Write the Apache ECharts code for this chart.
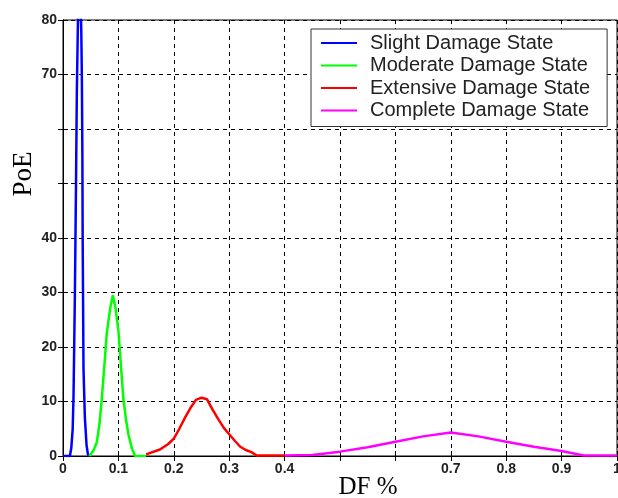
<!DOCTYPE html>
<html>
<head>
<meta charset="utf-8">
<script src="https://cdn.jsdelivr.net/npm/echarts@6/dist/echarts.min.js"></script>
<style>
  html, body { margin: 0; padding: 0; background: #fff; }
  #chart { width: 618px; height: 498px; }
</style>
</head>
<body>
<div id="chart"></div>
<script>
// series (DF vs PoE)
var slightX = [0, 0.0125, 0.015, 0.0175, 0.019, 0.0215, 0.0235, 0.025, 0.027, 0.029, 0.031, 0.033, 0.034, 0.035, 0.0355, 0.037, 0.0395, 0.0425, 0.045, 0.0475];
var slightY = [0, 0, 1.5, 5, 11, 30, 50, 67, 80, 88, 86, 78, 70, 55, 40, 16, 7, 2, 0.3, 0];

var moderateX = [0.0475, 0.055, 0.061, 0.066, 0.07, 0.075, 0.079, 0.085, 0.09, 0.095, 0.1, 0.105, 0.109, 0.114, 0.118, 0.124, 0.13, 0.15];
var moderateY = [0, 1, 2.5, 6, 10.5, 17, 22.5, 27, 29.5, 27, 23, 16, 10.5, 6.5, 4, 1.5, 0, 0];

var extensiveX = [0.15, 0.175, 0.19, 0.2, 0.21, 0.22, 0.23, 0.24, 0.25, 0.26, 0.27, 0.28, 0.29, 0.3, 0.31, 0.32, 0.33, 0.34, 0.35, 0.4];
var extensiveY = [0.3, 1.2, 2.2, 3.2, 5, 7, 8.8, 10.3, 10.7, 10.4, 8.5, 6.8, 5.2, 4, 2.8, 1.7, 1.1, 0.7, 0.1, 0.1];

var completeX = [0.4, 0.45, 0.5, 0.55, 0.6, 0.65, 0.7, 0.75, 0.8, 0.85, 0.9, 0.94, 1];
var completeY = [0.1, 0.2, 0.8, 1.6, 2.6, 3.6, 4.3, 3.6, 2.6, 1.7, 0.9, 0.1, 0.1];

var seriesNames = ["Slight Damage State", "Moderate Damage State", "Extensive Damage State", "Complete Damage State"];
var seriesColors = ["#0000ff", "#00ff00", "#ff0000", "#ff00ff"];

// tick labels that are hidden in the reference
var hiddenX = [0.5, 0.6];
var hiddenY = [50, 60];

function pairs (xs, ys) {
  return xs.map(function (x, i) { return [x, ys[i]]; });
}

var chart = echarts.init(document.getElementById("chart"));

var allX = [slightX, moderateX, extensiveX, completeX];
var allY = [slightY, moderateY, extensiveY, completeY];

var series = seriesNames.map(function (name, i) {
  return {
    name: name,
    type: "line",
    symbol: "none",
    clip: true,
    lineStyle: { color: seriesColors[i], width: 2.5 },
    itemStyle: { color: seriesColors[i] },
    data: pairs(allX[i], allY[i]),
  };
});

var labelFont = { color: "#222", fontFamily: "Arial, Liberation Sans, sans-serif", fontSize: 14, fontWeight: "bold" };
var dashed = { show: true, lineStyle: { color: "#000", type: [4, 4], width: 1 } };

var option = {
  backgroundColor: "#fff",
  animation: false,
  grid: { left: 63, top: 20, right: 1, bottom: 42, show: true, borderColor: "#000", borderWidth: 1, outerBoundsMode: "none" },
  legend: {
    orient: "vertical",
    left: 311,
    top: 29,
    padding: [4, 17, 6, 10],
    itemGap: 2.5,
    itemWidth: 36,
    itemHeight: 2,
    icon: "rect",
    backgroundColor: "#fff",
    borderColor: "#333",
    borderWidth: 1,
    textStyle: { color: "#222", fontSize: 20, lineHeight: 20, fontFamily: "Arial, Liberation Sans, sans-serif", padding: [0, 0, 0, 8] },
    data: seriesNames,
  },
  xAxis: [
    {
      type: "value",
      min: 0,
      max: 1,
      interval: 0.1,
      axisLine: { show: true, lineStyle: { color: "#000" } },
      axisTick: { show: true, inside: true, length: 5, lineStyle: { color: "#000" } },
      axisLabel: Object.assign({
        margin: 6,
        formatter: function (v) {
          var r = Math.round(v * 10) / 10;
          return hiddenX.indexOf(r) >= 0 ? "" : String(r);
        },
      }, labelFont),
      splitLine: dashed,
    },
    {
      type: "value",
      position: "top",
      min: 0,
      max: 1,
      interval: 0.1,
      axisLine: { show: true, lineStyle: { color: "#000" } },
      axisTick: { show: true, inside: true, length: 5, lineStyle: { color: "#000" } },
      axisLabel: { show: false },
      splitLine: { show: false },
    },
  ],
  yAxis: [
    {
      type: "value",
      min: 0,
      max: 80,
      interval: 10,
      axisLine: { show: true, lineStyle: { color: "#000" } },
      axisTick: { show: true, inside: true, length: 5, lineStyle: { color: "#000" } },
      axisLabel: Object.assign({
        margin: 6,
        formatter: function (v) {
          return hiddenY.indexOf(v) >= 0 ? "" : String(v);
        },
      }, labelFont),
      splitLine: dashed,
    },
    {
      type: "value",
      position: "right",
      min: 0,
      max: 80,
      interval: 10,
      axisLine: { show: true, lineStyle: { color: "#000" } },
      axisTick: { show: true, inside: true, length: 5, lineStyle: { color: "#000" } },
      axisLabel: { show: false },
      splitLine: { show: false },
    },
  ],
  graphic: [
    {
      type: "text",
      x: 24,
      y: 174,
      rotation: Math.PI / 2,
      style: {
        text: "PoE",
        fontFamily: "Liberation Serif, Times New Roman, serif",
        fontSize: 27,
        fill: "#000",
        align: "center",
        verticalAlign: "middle",
      },
    },
    {
      type: "text",
      x: 368,
      y: 487,
      style: {
        text: "DF %",
        fontFamily: "Liberation Serif, Times New Roman, serif",
        fontSize: 25,
        fill: "#000",
        align: "center",
        verticalAlign: "middle",
      },
    },
  ],
  series: series,
};

chart.setOption(option);
</script>
</body>
</html>
